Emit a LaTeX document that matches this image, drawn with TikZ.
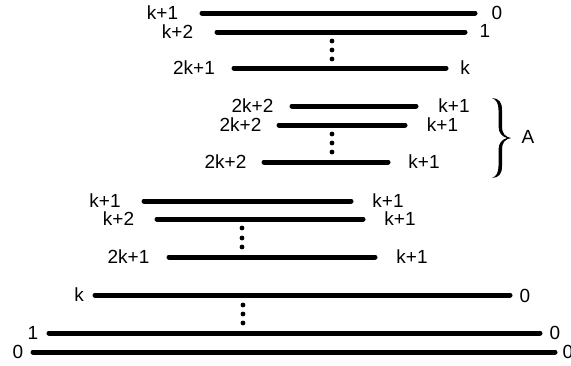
\documentclass[tikz,border=0pt]{standalone}
\usepackage{fontspec}
\setmainfont{Liberation Sans}
\begin{document}
\begin{tikzpicture}[x=1pt,y=-1pt,
  bar/.style={line width=5pt, line cap=round},
  lbl/.style={inner sep=0pt, font=\fontsize{19}{21}\selectfont},
  vdot/.style={circle, fill, inner sep=0pt, minimum size=4.8pt}]
\useasboundingbox (0,0) rectangle (571,365);
% group 1
\coordinate (a1) at (202,13);  \coordinate (b1) at (475,13);
\coordinate (a2) at (217,32);  \coordinate (b2) at (465,32);
\coordinate (a3) at (234,68);  \coordinate (b3) at (446,68);
\foreach \i in {1,2,3} \draw[bar] (a\i) -- (b\i);
\node[lbl] (l1) at (162.5,13) {k+1}; \node[lbl] (r1) at (497,13) {0};
\node[lbl] (l2) at (177.5,32) {k+2}; \node[lbl] (r2) at (485,31) {1};
\node[lbl] (l3) at (194,68) {2k+1};  \node[lbl] (r3) at (465,68) {k};
\node[vdot] (d11) at (332,41) {}; \node[vdot] (d12) at (332,50) {}; \node[vdot] (d13) at (332,59) {};
% group A
\coordinate (a4) at (292,106); \coordinate (b4) at (416,106);
\coordinate (a5) at (279,125); \coordinate (b5) at (405,125);
\coordinate (a6) at (264,162); \coordinate (b6) at (388,162);
\foreach \i in {4,5,6} \draw[bar] (a\i) -- (b\i);
\node[lbl] (l4) at (252.5,106) {2k+2}; \node[lbl] (r4) at (454,106) {k+1};
\node[lbl] (l5) at (240.5,125) {2k+2}; \node[lbl] (r5) at (442.5,125) {k+1};
\node[lbl] (l6) at (225.5,162) {2k+2}; \node[lbl] (r6) at (424,162) {k+1};
\node[vdot] (d21) at (332,134) {}; \node[vdot] (d22) at (332,143) {}; \node[vdot] (d23) at (332,152) {};
% brace
\fill (492,98) .. controls (499,98.5) and (502,102) .. (502,110) -- (502,127)
  .. controls (502,133) and (505,137) .. (511,138)
  .. controls (505,139) and (502,143) .. (502,149) -- (502,166)
  .. controls (502,174) and (499,177.5) .. (492,178)
  .. controls (496.5,176.5) and (498.5,172) .. (498.5,166) -- (498.5,150)
  .. controls (498.5,143) and (502,139.5) .. (507,138)
  .. controls (502,136.5) and (498.5,133) .. (498.5,126) -- (498.5,110)
  .. controls (498.5,104) and (496.5,99.5) .. (492,98) -- cycle;
\node[lbl] (A) at (528,137) {A};
% group 3
\coordinate (a7) at (144,201); \coordinate (b7) at (351,201);
\coordinate (a8) at (157,219); \coordinate (b8) at (363,219);
\coordinate (a9) at (169,257); \coordinate (b9) at (375,257);
\foreach \i in {7,8,9} \draw[bar] (a\i) -- (b\i);
\node[lbl] (l7) at (105,201) {k+1};   \node[lbl] (r7) at (388,201) {k+1};
\node[lbl] (l8) at (118.5,219) {k+2}; \node[lbl] (r8) at (400,219) {k+1};
\node[lbl] (l9) at (128.5,257) {2k+1}; \node[lbl] (r9) at (412,257) {k+1};
\node[vdot] (d31) at (242,228) {}; \node[vdot] (d32) at (242,238) {}; \node[vdot] (d33) at (242,247) {};
% group 4
\coordinate (a10) at (95,295);  \coordinate (b10) at (510,295);
\coordinate (a11) at (49,333);  \coordinate (b11) at (540,333);
\coordinate (a12) at (33,352);  \coordinate (b12) at (555,352);
\foreach \i in {10,11,12} \draw[bar] (a\i) -- (b\i);
\node[lbl] (l10) at (79,295) {k};  \node[lbl] (r10) at (525,296) {0};
\node[lbl] (l11) at (33,333) {1};  \node[lbl] (r11) at (555,333) {0};
\node[lbl] (l12) at (18,352) {0};  \node[lbl] (r12) at (568,352) {0};
\node[vdot] (d41) at (243,305) {}; \node[vdot] (d42) at (243,314) {}; \node[vdot] (d43) at (243,323) {};
\end{tikzpicture}
\end{document}
